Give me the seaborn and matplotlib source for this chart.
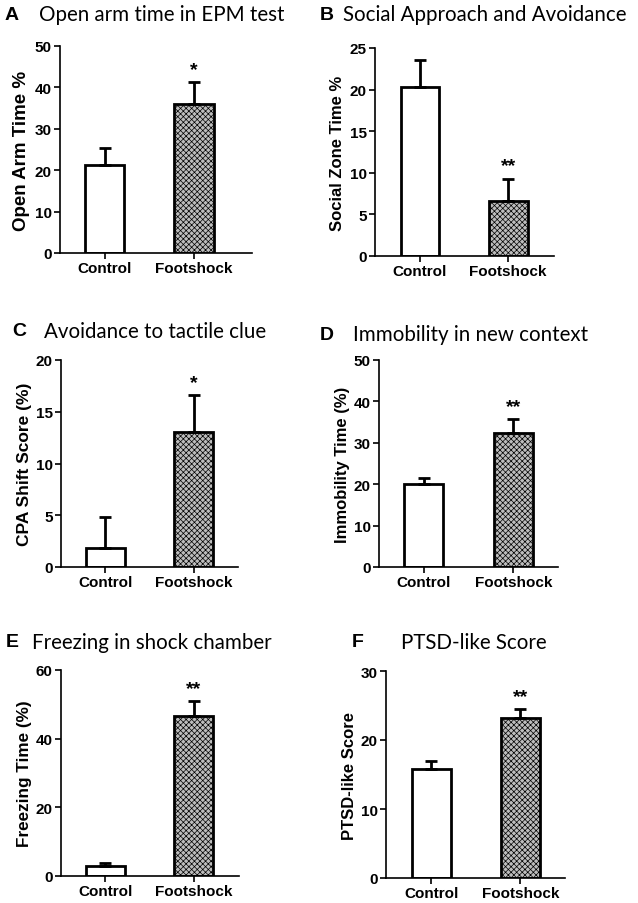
# Figura de 6 paneles: pruebas conductuales Control vs Footshock
import pandas as pd
import matplotlib
matplotlib.use('Agg')
import matplotlib.pyplot as plt
import seaborn as sns

# Datos
grupos = ['Control', 'Footshock']
letras = ['A', 'B', 'C', 'D', 'E', 'F']
titulos = ['Open arm time in EPM test', 'Social Approach and Avoidance',
           'Avoidance to tactile clue', 'Immobility in new context',
           'Freezing in shock chamber', 'PTSD-like Score']
etiquetas_y = ['Open Arm Time %', 'Social Zone Time %', 'CPA Shift Score (%)',
               'Immobility Time (%)', 'Freezing Time (%)', 'PTSD-like Score']
medias = [[21.2, 36.0], [20.3, 6.6], [1.8, 13.0], [20.0, 32.3], [3.0, 46.7], [15.8, 23.2]]
errores = [[4.1, 5.2], [3.2, 2.7], [3.0, 3.6], [1.5, 3.5], [0.7, 4.3], [1.2, 1.3]]
asteriscos = ['*', '**', '*', '**', '**', '**']
ymax = [50, 25, 20, 50, 60, 30]
ypaso = [10, 5, 5, 10, 20, 10]

sns.set_style('ticks')
plt.rcParams['font.family'] = ['Liberation Sans', 'DejaVu Sans']
plt.rcParams['text.color'] = 'black'
plt.rcParams['axes.labelcolor'] = 'black'
plt.rcParams['xtick.color'] = 'black'
plt.rcParams['ytick.color'] = 'black'
plt.rcParams['axes.edgecolor'] = 'black'
plt.rcParams['hatch.linewidth'] = 0.5
plt.rcParams['hatch.color'] = '#505050'

W, H = 638, 904
fig = plt.figure(figsize=(W / 100, H / 100), dpi=100)

# posiciones en pixeles: izquierda, derecha, arriba, abajo
cajas = [(60, 252, 47, 254), (375, 554, 49, 257), (61, 238, 361, 568),
         (379, 558, 361, 568), (61, 239, 671, 877), (386, 565, 672, 879)]
xlims = [(-0.5, 1.65), (-0.51, 1.52), (-0.5, 1.5), (-0.5, 1.5), (-0.5, 1.51), (-0.51, 1.5)]
pos_titulo = [(5, 39, 15), (320, 343, 15), (12, 44, 332), (320, 353, 335),
              (6, 32, 643), (352, 401, 643)]
tam_ylabel = [13.5, 12, 12.5, 12, 12.3, 12]

for i in range(6):
    l, r, t, b = cajas[i]
    ax = fig.add_axes([l / W, 1 - b / H, (r - l) / W, (b - t) / H])
    df = pd.DataFrame({'grupo': grupos, 'valor': medias[i]})
    sns.barplot(data=df, x='grupo', y='valor', ax=ax, width=0.44, errorbar=None,
                color='white', edgecolor='black', linewidth=2.0)
    barra = ax.patches[1]
    barra.set_facecolor('#bdbdbd')
    barra.set_hatch('xxxxxx')
    ax.errorbar([0, 1], medias[i], yerr=[[0, 0], errores[i]], fmt='none',
                ecolor='black', elinewidth=2.0, capsize=4.5, capthick=2.0, zorder=1)
    ax.annotate(asteriscos[i], xy=(1, medias[i][1] + errores[i][1]), xytext=(0, 3),
                textcoords='offset points', ha='center', va='bottom',
                fontsize=14, fontweight='bold')
    ax.set_ylim(0, ymax[i])
    ax.set_yticks(range(0, ymax[i] + 1, ypaso[i]))
    ax.set_xlim(*xlims[i])
    ax.set_xlabel('')
    ax.set_ylabel(etiquetas_y[i], fontsize=tam_ylabel[i], fontweight='bold', labelpad=3)
    sns.despine(ax=ax)
    for s in ['left', 'bottom']:
        ax.spines[s].set_linewidth(1.2)
    ax.tick_params(width=1.2, length=4, labelsize=11, pad=2)
    for lab in ax.get_xticklabels() + ax.get_yticklabels():
        lab.set_fontweight('bold')

    lx, tx, ty = pos_titulo[i]
    fig.text(lx / W, 1 - ty / H, letras[i], fontsize=14, fontweight='bold', va='center')
    fig.text(tx / W, 1 - ty / H, titulos[i], fontsize=14.8, va='center',
             family=['Lato', 'DejaVu Sans'])

fig.savefig('out.png', dpi=100)
